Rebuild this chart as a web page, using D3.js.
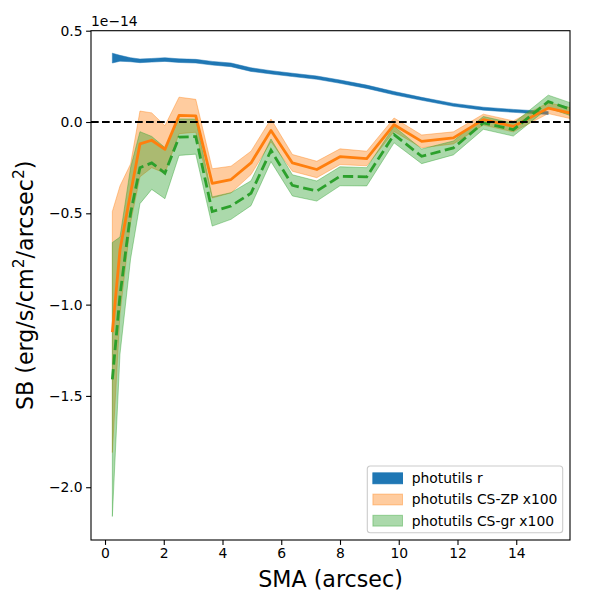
<!DOCTYPE html>
<html>
<head>
<meta charset="utf-8">
<script src="https://cdn.jsdelivr.net/npm/d3@7"></script>
<style>
  body { margin: 0; background: #fff; }
  svg text { font-family: "DejaVu Sans", sans-serif; fill: #000; }
</style>
</head>
<body>
<script>
//data, surface brightness in units of 1e-14
var sma = [0.25, 0.51, 0.87, 1.19, 1.59, 2.04, 2.52, 3.09, 3.65, 4.29, 4.97, 5.65,
    6.38, 7.21, 8.00, 8.91, 9.84, 10.78, 11.86, 12.88, 13.90, 15.09, 15.83];

//photutils r (stops one point early)
var sbR = [0.350, 0.349, 0.341, 0.335, 0.338, 0.342, 0.336, 0.333, 0.322, 0.313, 0.287,
    0.272, 0.258, 0.243, 0.221, 0.193, 0.158, 0.127, 0.094, 0.073, 0.061, 0.049];
var sbRErr = [0.027, 0.016, 0.011, 0.010, 0.010, 0.010, 0.010, 0.010, 0.010, 0.010, 0.010,
    0.009, 0.009, 0.009, 0.009, 0.009, 0.009, 0.008, 0.008, 0.008, 0.008, 0.008];

//CS-ZP x100
var sbZP = [-1.15, -0.70, -0.39, -0.12, -0.10, -0.15, 0.036, 0.034, -0.336, -0.315, -0.224,
    -0.046, -0.224, -0.26, -0.19, -0.20, -0.015, -0.106, -0.087, 0.013, -0.024, 0.076, 0.049];
var sbZPErr = [0.66, 0.35, 0.16, 0.18, 0.15, 0.13, 0.10, 0.09, 0.08, 0.073, 0.064,
    0.062, 0.046, 0.045, 0.043, 0.04, 0.037, 0.035, 0.033, 0.03, 0.03, 0.03, 0.03];

//CS-gr x100
var sbGR = [-1.41, -0.95, -0.50, -0.25, -0.224, -0.28, -0.083, -0.08, -0.49, -0.46, -0.39,
    -0.155, -0.347, -0.378, -0.297, -0.30, -0.069, -0.188, -0.142, -0.005, -0.042, 0.112, 0.071];
var sbGRErr = [0.75, 0.32, 0.25, 0.197, 0.145, 0.14, 0.10, 0.096, 0.08, 0.073, 0.068,
    0.062, 0.058, 0.055, 0.052, 0.05, 0.045, 0.04, 0.038, 0.035, 0.035, 0.035, 0.035];

var xTicks = [0, 2, 4, 6, 8, 10, 12, 14];
var yTicks = [-2.0, -1.5, -1.0, -0.5, 0.0, 0.5];
var legendLabels = ["photutils r", "photutils CS-ZP x100", "photutils CS-gr x100"];

//canvas
var margin = { top: 30.7, right: 30, bottom: 60, left: 91 },
    width = 570 - margin.left,
    height = 540 - margin.top;

var svg = d3.select("body").append("svg")
    .attr("width", 600)
    .attr("height", 600);

var g = svg.append("g")
    .attr("transform", "translate(" + margin.left + "," + margin.top + ")");

var xScale = d3.scaleLinear().domain([-0.477, 15.83]).range([0, width]);
var yScale = d3.scaleLinear().domain([-2.289, 0.5]).range([height, 0]);

g.append("clipPath").attr("id", "clip")
    .append("rect").attr("width", width).attr("height", height);

var plot = g.append("g").attr("clip-path", "url(#clip)");

function band(vals, errs) {
    return vals.map(function(v, i) {
        return { x: sma[i], lo: v - errs[i], hi: v + errs[i], y: v };
    });
}

var area = d3.area()
    .x(function(d) { return xScale(d.x); })
    .y0(function(d) { return yScale(d.lo); })
    .y1(function(d) { return yScale(d.hi); });

var line = d3.line()
    .x(function(d) { return xScale(d.x); })
    .y(function(d) { return yScale(d.y); });

//bands
plot.append("path").datum(band(sbR, sbRErr))
    .attr("d", area).attr("fill", "#1f77b4").attr("stroke", "#1f77b4").attr("stroke-width", 0.5);

plot.append("path").datum(band(sbZP, sbZPErr))
    .attr("d", area).attr("fill", "#ff7f0e").attr("fill-opacity", 0.4)
    .attr("stroke", "#ff7f0e").attr("stroke-opacity", 0.4).attr("stroke-width", 1);

plot.append("path").datum(band(sbGR, sbGRErr))
    .attr("d", area).attr("fill", "#2ca02c").attr("fill-opacity", 0.4)
    .attr("stroke", "#2ca02c").attr("stroke-opacity", 0.4).attr("stroke-width", 1);

//lines
plot.append("path").datum(band(sbZP, sbZPErr))
    .attr("d", line).attr("fill", "none").attr("stroke", "#ff7f0e")
    .attr("stroke-width", 2.8).attr("stroke-linejoin", "round");

plot.append("path").datum(band(sbGR, sbGRErr))
    .attr("d", line).attr("fill", "none").attr("stroke", "#2ca02c")
    .attr("stroke-width", 2.8).attr("stroke-dasharray", "10.3,4.5");

//zero line
plot.append("line")
    .attr("x1", 0).attr("x2", width)
    .attr("y1", yScale(0)).attr("y2", yScale(0))
    .attr("stroke", "#000").attr("stroke-width", 2.1).attr("stroke-dasharray", "7.7,3.3");

//axes
var fmtY = function(d) { return d3.format(".1f")(d).replace("-", "\u2212"); };

var xAxis = g.append("g")
    .attr("transform", "translate(0," + height + ")")
    .call(d3.axisBottom(xScale).tickValues(xTicks).tickSize(4.9).tickPadding(3.5));

var yAxis = g.append("g")
    .call(d3.axisLeft(yScale).tickValues(yTicks).tickSize(4.9).tickPadding(3.5).tickFormat(fmtY));

[xAxis, yAxis].forEach(function(ax) {
    ax.select(".domain").remove();
    ax.selectAll("line").attr("stroke", "#000").attr("stroke-width", 1.1);
    ax.selectAll("text").attr("font-size", "13.9px")
        .attr("font-family", "DejaVu Sans, sans-serif").attr("fill", "#000");
});

//frame
g.append("rect")
    .attr("width", width).attr("height", height)
    .attr("fill", "none").attr("stroke", "#000").attr("stroke-width", 1.1);

//offset text
g.append("text")
    .attr("x", 0).attr("y", -5)
    .attr("font-size", "13.9px")
    .text("1e\u221214");

//axis labels
svg.append("text")
    .attr("x", margin.left + width / 2).attr("y", 587)
    .attr("text-anchor", "middle")
    .attr("font-size", "22.2px")
    .text("SMA (arcsec)");

var yl = svg.append("text")
    .attr("transform", "translate(33," + (margin.top + height / 2) + ") rotate(-90)")
    .attr("text-anchor", "middle")
    .attr("font-size", "22.2px");
yl.append("tspan").text("SB (erg/s/cm");
yl.append("tspan").attr("font-size", "15.5px").attr("dy", -9).text("2");
yl.append("tspan").attr("dy", 9).text("/arcsec");
yl.append("tspan").attr("font-size", "15.5px").attr("dy", -9).text("2");
yl.append("tspan").attr("dy", 9).text(")");

//legend
var legend = svg.append("g").attr("transform", "translate(367.3,466)");
legend.append("rect")
    .attr("width", 195.4).attr("height", 66.7).attr("rx", 3)
    .attr("fill", "#fff").attr("fill-opacity", 0.8)
    .attr("stroke", "#cccccc").attr("stroke-width", 1.1);

var legendStyles = [
    { fill: "#1f77b4", op: 1 },
    { fill: "#ff7f0e", op: 0.4 },
    { fill: "#2ca02c", op: 0.4 }
];
legendLabels.forEach(function(lbl, i) {
    var cy = 12.3 + i * 21.2;
    legend.append("rect")
        .attr("x", 5.6).attr("y", cy - 5.4)
        .attr("width", 29.6).attr("height", 10.8)
        .attr("fill", legendStyles[i].fill).attr("fill-opacity", legendStyles[i].op)
        .attr("stroke", legendStyles[i].fill).attr("stroke-opacity", legendStyles[i].op)
        .attr("stroke-width", 1);
    legend.append("text")
        .attr("x", 44.4).attr("y", cy)
        .attr("dy", "0.35em")
        .attr("font-size", "13.9px")
        .text(lbl);
});
</script>
</body>
</html>
